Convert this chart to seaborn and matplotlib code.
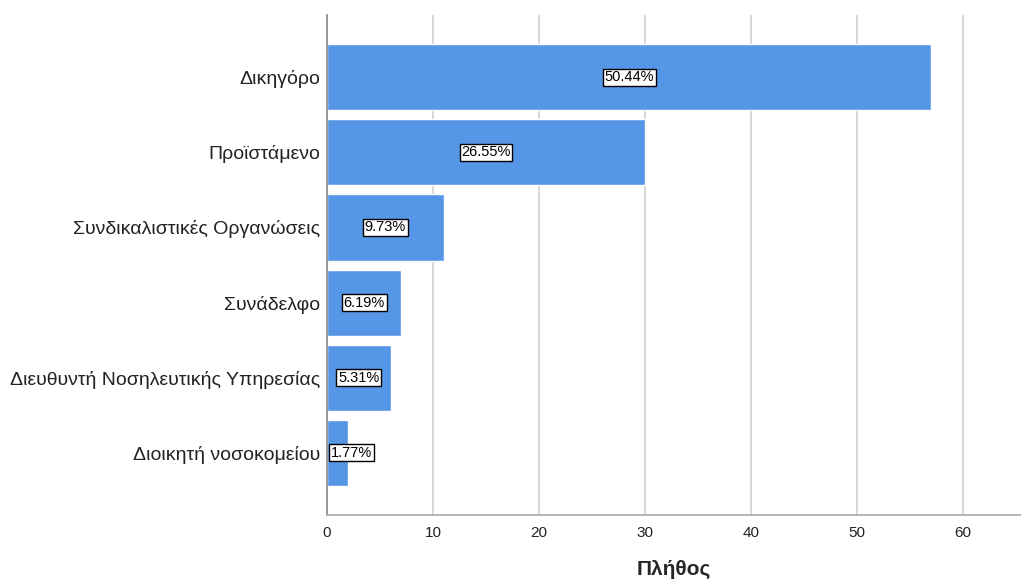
import matplotlib
matplotlib.use('Agg')
import matplotlib.pyplot as plt
import seaborn as sns
import pandas as pd

categories = ['Δικηγόρο', 'Προϊστάμενο', 'Συνδικαλιστικές Οργανώσεις',
              'Συνάδελφο', 'Διευθυντή Νοσηλευτικής Υπηρεσίας', 'Διοικητή νοσοκομείου']
counts = [57, 30, 11, 7, 6, 2]
percent_labels = ['50.44%', '26.55%', '9.73%', '6.19%', '5.31%', '1.77%']

df = pd.DataFrame({'category': categories, 'count': counts})

sns.set_style('white')
plt.rcParams['font.family'] = ['Liberation Sans', 'DejaVu Sans']

fig = plt.figure(figsize=(10.21, 5.79), dpi=100)
ax = fig.add_axes([0.3203, 0.1105, 0.6797, 0.8636])

sns.barplot(data=df, x='count', y='category', orient='h', color='#5596e6',
            saturation=1, width=0.88, ax=ax, zorder=2)

# percentage boxes in the middle of each bar (kept clear of the axis)
for i, (v, lab) in enumerate(zip(counts, percent_labels)):
    ax.text(max(v / 2, 2.3), i, lab, ha='center', va='center', fontsize=10.5,
            color='black', zorder=4,
            bbox=dict(boxstyle='square,pad=0.12', facecolor='white',
                      edgecolor='black', linewidth=1))

ax.set_xlim(0, 65.47)
ax.set_ylim(5.83, -0.83)
ax.set_xticks([0, 10, 20, 30, 40, 50, 60])
ax.xaxis.grid(True, color='#d0d0d0', linewidth=1.2, zorder=0)
ax.set_axisbelow(True)
ax.tick_params(axis='x', length=0, labelsize=11, pad=8, colors='#222222')
ax.tick_params(axis='y', length=0, labelsize=14, pad=5, colors='#222222')
ax.set_ylabel('')
ax.set_xlabel('Πλήθος', fontsize=15, fontweight='bold', labelpad=14)

for s in ['top', 'right']:
    ax.spines[s].set_visible(False)
ax.spines['left'].set_color('#888888')
ax.spines['bottom'].set_color('#aaaaaa')
ax.spines['left'].set_linewidth(1.2)
ax.spines['bottom'].set_linewidth(1.2)

fig.savefig('out.png', dpi=100)
